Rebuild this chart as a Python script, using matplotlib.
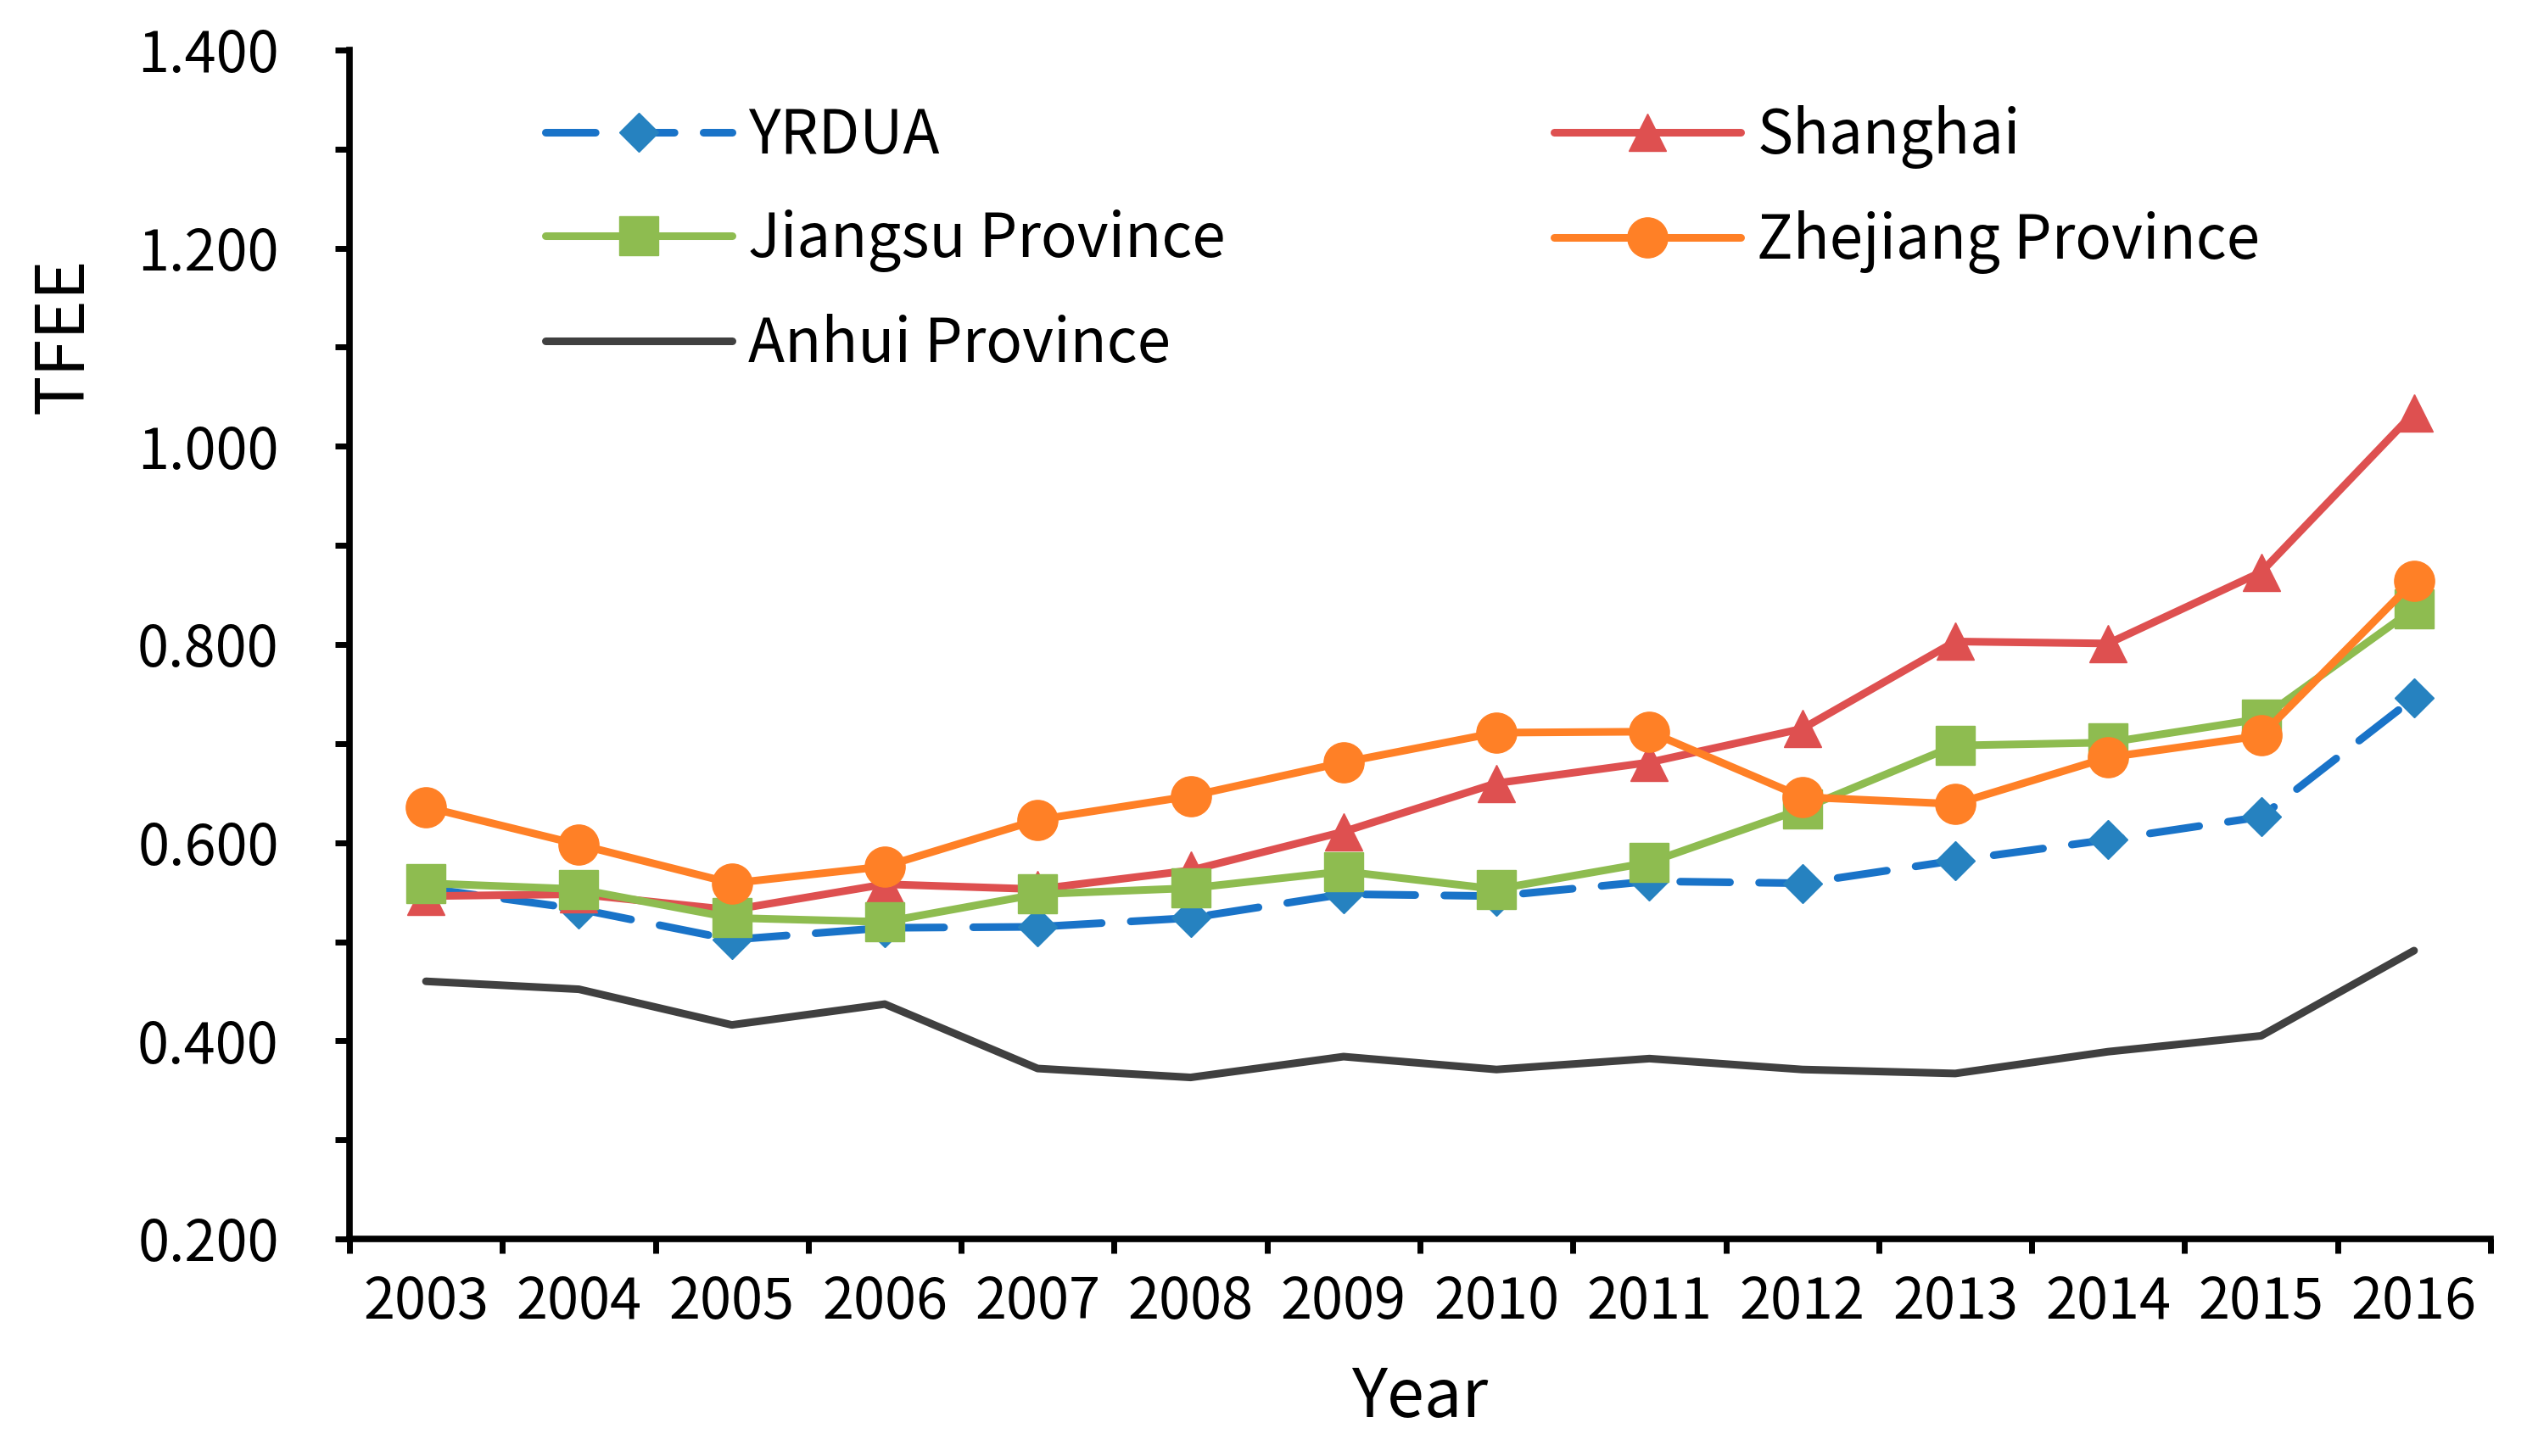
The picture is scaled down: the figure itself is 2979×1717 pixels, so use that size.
import matplotlib
matplotlib.use('Agg')
import matplotlib.pyplot as plt
import numpy as np

plt.rcParams['font.family'] = ['Noto Sans CJK SC', 'DejaVu Sans']
plt.rcParams['font.weight'] = 'light'

years = ['2003', '2004', '2005', '2006', '2007', '2008', '2009',
         '2010', '2011', '2012', '2013', '2014', '2015', '2016']

yrdua = [0.554, 0.533, 0.502, 0.514, 0.515, 0.524, 0.548,
         0.546, 0.561, 0.559, 0.582, 0.603, 0.626, 0.746]
shanghai = [0.546, 0.548, 0.532, 0.558, 0.553, 0.572, 0.611,
            0.660, 0.681, 0.715, 0.803, 0.801, 0.873, 1.034]
jiangsu = [0.559, 0.553, 0.524, 0.520, 0.548, 0.554, 0.571,
           0.553, 0.580, 0.634, 0.698, 0.701, 0.725, 0.836]
zhejiang = [0.636, 0.598, 0.559, 0.576, 0.623, 0.647, 0.681,
            0.711, 0.712, 0.646, 0.639, 0.686, 0.708, 0.864]
anhui = [0.460, 0.452, 0.416, 0.437, 0.372, 0.363, 0.384,
         0.371, 0.382, 0.371, 0.367, 0.389, 0.405, 0.491]

W, H = 2979, 1717
fig = plt.figure(figsize=(W / 100, H / 100), dpi=100)
# axes frame in pixels: left 412, right 2936, top 59, bottom 1461
ax = fig.add_axes([412 / W, (H - 1461) / H, (2936 - 412) / W, (1461 - 59) / H])

x = np.arange(len(years))
lw = 6.5

h1, = ax.plot(x, yrdua, color='#1973C8', lw=lw, ls=(0, (6.5, 3.8)),
              dash_capstyle='round', marker='D', ms=23, mfc='#2682C0',
              mec='#2682C0', mew=1, label='YRDUA')
h2, = ax.plot(x, shanghai, color='#DE5050', lw=lw, solid_capstyle='round',
              marker='^', ms=32, mfc='#DE5050', mec='#DE5050', mew=1,
              label='Shanghai')
h3, = ax.plot(x, jiangsu, color='#8EBC50', lw=lw, solid_capstyle='round',
              marker='s', ms=33, mfc='#8EBC50', mec='#8EBC50', mew=1,
              label='Jiangsu Province')
h4, = ax.plot(x, zhejiang, color='#FF8026', lw=lw, solid_capstyle='round',
              marker='o', ms=34, mfc='#FF8026', mec='#FF8026', mew=1,
              label='Zhejiang Province')
h5, = ax.plot(x, anhui, color='#404040', lw=lw, solid_capstyle='round',
              label='Anhui Province')

ax.set_xlim(-0.5, len(years) - 0.5)
ax.set_ylim(0.2, 1.4)
ax.set_xticks(x)
ax.set_xticklabels(years)
ax.set_xticks(np.arange(-0.5, len(years), 1.0), minor=True)
ax.tick_params(axis='x', which='major', length=0, pad=30, labelsize=48)
ax.tick_params(axis='x', which='minor', length=12, width=5, direction='out')

yt = np.arange(0.2, 1.401, 0.2)
ax.set_yticks(yt)
ax.set_yticklabels(['%.3f' % v for v in yt])
ax.set_yticks(np.arange(0.3, 1.4, 0.2), minor=True)
ax.tick_params(axis='y', which='both', length=12, width=5, direction='out',
               labelsize=48, pad=48)

for s in ['top', 'right']:
    ax.spines[s].set_visible(False)
for s in ['left', 'bottom']:
    ax.spines[s].set_linewidth(5.5)

ax.set_xlabel('Year', fontsize=57)
ax.xaxis.set_label_coords(0.5, -0.105)
ax.set_ylabel('TFEE', fontsize=57, va='center')
ax.yaxis.set_label_coords(-0.1335, 0.76)

leg_kw = dict(frameon=False, fontsize=51, loc='upper left',
              bbox_transform=fig.transFigure, borderpad=0, borderaxespad=0,
              handlelength=3.1, handletextpad=0.28, labelspacing=0.69)
leg1 = ax.legend([h1, h3, h5],
                 ['YRDUA', 'Jiangsu Province', 'Anhui Province'],
                 bbox_to_anchor=(643 / W, 1 - 124 / H), **leg_kw)
ax.add_artist(leg1)
ax.legend([h2, h4], ['Shanghai', 'Zhejiang Province'],
          bbox_to_anchor=(1832 / W, 1 - 124 / H), **leg_kw)

fig.savefig('out.png', dpi=100)
